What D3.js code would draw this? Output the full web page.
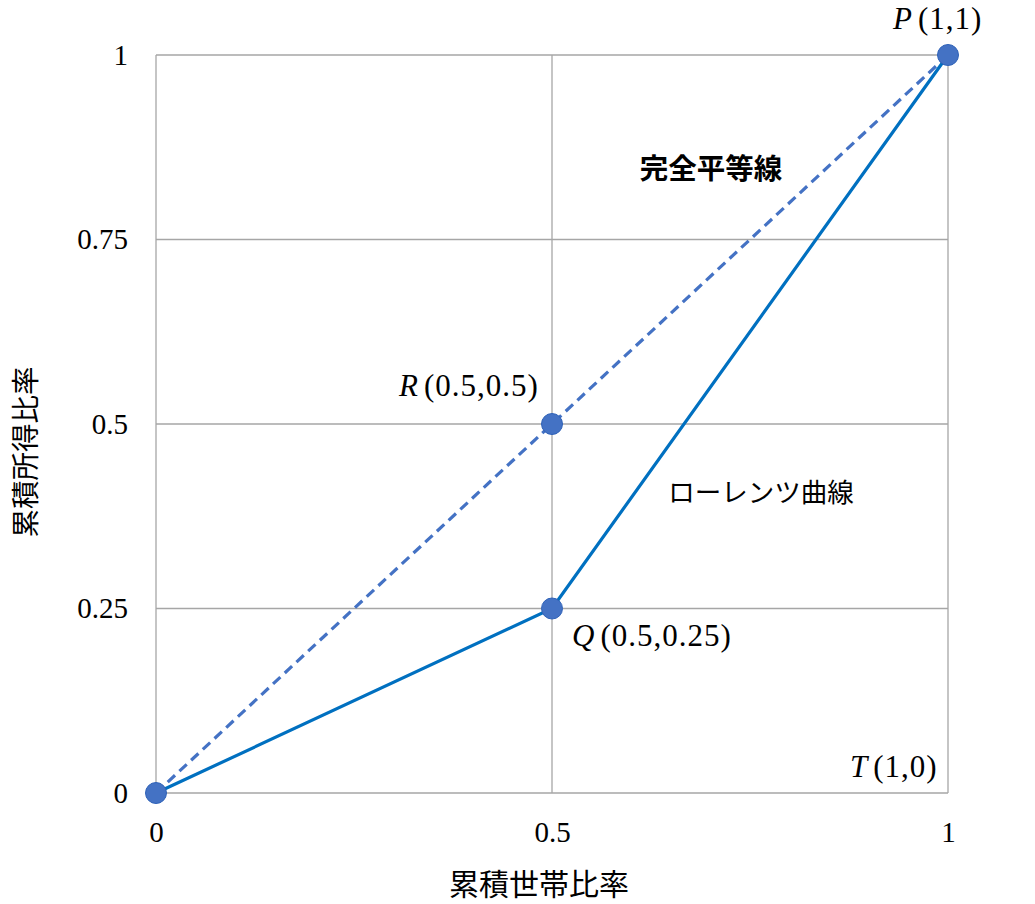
<!DOCTYPE html>
<html><head><meta charset="utf-8">
<script src="https://cdn.jsdelivr.net/npm/d3@7"></script>
<style>body{margin:0;background:#fff}</style>
</head><body>
<script>
const xTicks = [0, 0.5, 1];
const yTicks = [0, 0.25, 0.5, 0.75, 1];
const tickLabels = {0:"0",0.25:"0.25",0.5:"0.5",0.75:"0.75",1:"1"};
const equalityLine = [[0,0],[1,1]];
const lorenzCurve = [[0,0],[0.5,0.25],[1,1]];
const points = [
  {name:"O", x:0, y:0},
  {name:"Q", x:0.5, y:0.25},
  {name:"R", x:0.5, y:0.5},
  {name:"P", x:1, y:1}
];
const pointLabels = [
  {letter:"P", coords:"(1,1)", x:1, y:1, dx:-55, dy:-26},
  {letter:"R", coords:"(0.5,0.5)", x:0.5, y:0.5, dx:-153, dy:-28},
  {letter:"Q", coords:"(0.5,0.25)", x:0.5, y:0.25, dx:20, dy:37},
  {letter:"T", coords:"(1,0)", x:1, y:0, dx:-98, dy:-16}
];

const W = 1035, H = 904;
const svg = d3.select("body").append("svg").attr("width", W).attr("height", H);
const x = d3.scaleLinear().domain([0,1]).range([156, 948]);
const y = d3.scaleLinear().domain([0,1]).range([793, 55]);

const serif = "'Liberation Serif','DejaVu Serif',serif";
const cjk = "'Noto Sans CJK JP',sans-serif";
const grid = svg.append("g");
xTicks.forEach(t => grid.append("line").attr("x1", x(t)).attr("x2", x(t)).attr("y1", y(0)).attr("y2", y(1)).attr("stroke", "#a6a6a6").attr("stroke-width", 1.3));
yTicks.forEach(t => grid.append("line").attr("x1", x(0)).attr("x2", x(1)).attr("y1", y(t)).attr("y2", y(t)).attr("stroke", "#a6a6a6").attr("stroke-width", 1.3));

const xAxis = d3.axisBottom(x).tickValues(xTicks).tickFormat(d => tickLabels[d]).tickSize(0).tickPadding(28);
const gx = svg.append("g").attr("transform", `translate(0,${y(0)})`).call(xAxis);
gx.select(".domain").remove();
gx.selectAll("text").attr("font-family", serif).attr("font-size", 29).attr("fill", "#000");

const yAxis = d3.axisLeft(y).tickValues(yTicks).tickFormat(d => tickLabels[d]).tickSize(0).tickPadding(28);
const gy = svg.append("g").attr("transform", `translate(${x(0)},0)`).call(yAxis);
gy.select(".domain").remove();
gy.selectAll("text").attr("font-family", serif).attr("font-size", 29).attr("fill", "#000");

const line = d3.line().x(d => x(d[0])).y(d => y(d[1]));
svg.append("path").attr("d", line(equalityLine)).attr("fill", "none").attr("stroke", "#4472C4").attr("stroke-width", 3.2).attr("stroke-dasharray", "10,6");
svg.append("path").attr("d", line(lorenzCurve)).attr("fill", "none").attr("stroke", "#0070C0").attr("stroke-width", 3.2);

svg.selectAll("circle.pt").data(points).enter().append("circle")
  .attr("cx", d => x(d.x)).attr("cy", d => y(d.y)).attr("r", 10.5)
  .attr("fill", "#4472C4").attr("stroke", "#2F62B8").attr("stroke-width", 1);

pointLabels.forEach(p => {
  const t = svg.append("text").attr("x", x(p.x) + p.dx).attr("y", y(p.y) + p.dy)
    .attr("font-family", serif).attr("font-size", 31).attr("fill", "#000")
    .attr("letter-spacing", 1);
  t.append("tspan").attr("font-style", "italic").text(p.letter);
  t.append("tspan").attr("dx", 5).text(p.coords);
});

svg.append("text").attr("x", 711).attr("y", 179).attr("text-anchor", "middle")
  .attr("font-family", cjk).attr("font-weight", "bold").attr("font-size", 28.5).text("完全平等線");
svg.append("text").attr("x", 761).attr("y", 502).attr("text-anchor", "middle")
  .attr("font-family", cjk).attr("font-size", 26.5).text("ローレンツ曲線");

svg.append("text").attr("x", 539).attr("y", 895).attr("text-anchor", "middle")
  .attr("font-family", cjk).attr("font-size", 30).text("累積世帯比率");
svg.append("text").attr("transform", "translate(36,452) rotate(-90)").attr("text-anchor", "middle")
  .attr("font-family", cjk).attr("font-size", 28.5).text("累積所得比率");
</script>
</body></html>
